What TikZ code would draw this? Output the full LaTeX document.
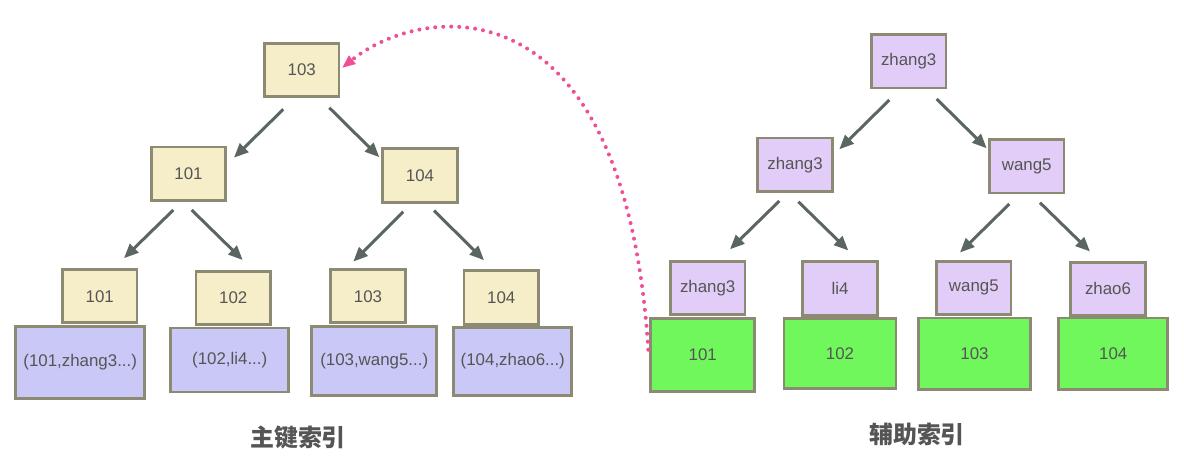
\documentclass[tikz,border=0pt]{standalone}
\usepackage{fontspec}
\setmainfont{Liberation Sans}
\newfontfamily\cjk{Noto Sans CJK SC}
\usepackage{xcolor}
\usetikzlibrary{arrows.meta,calc}
\definecolor{keyfill}{HTML}{F5EEC9}
\definecolor{rowfill}{HTML}{C9C8F6}
\definecolor{secfill}{HTML}{E1CDF7}
\definecolor{pkfill}{HTML}{70F75C}
\definecolor{edgec}{HTML}{8D8A74}
\definecolor{arrc}{HTML}{5B6661}
\definecolor{linkc}{HTML}{EE4F97}
\definecolor{txtc}{HTML}{555555}

\begin{document}
\begin{tikzpicture}[x=0.025cm,y=-0.025cm,
		box/.style={draw=edgec,line width=0.07cm,inner sep=0pt,text=txtc,font=\fontsize{12}{14}\selectfont},
		keybox/.style={box,fill=keyfill,minimum width=1.86cm,minimum height=1.33cm},
		secbox/.style={box,fill=secfill,minimum width=1.86cm,minimum height=1.33cm},
		rowbox/.style={box,fill=rowfill},
		pkbox/.style={box,fill=pkfill},
		arr/.style={draw=arrc,line width=0.075cm,-{Triangle[length=0.36cm,width=0.3cm]}},
		link/.style={draw=linkc,line width=0.1cm,line cap=round,dash pattern=on 0pt off 0.2cm,
			-{Triangle[length=0.32cm,width=0.28cm,fill=linkc,line width=0pt]}},
		caption/.style={text=txtc,font=\cjk\bfseries\fontsize{17}{20}\selectfont}]
		\useasboundingbox (0,0) rectangle (1184,465);
		\node[rowbox,minimum width=3.22cm,minimum height=1.8cm] (d1) at (80.2,362.5) {(101,zhang3...)};
		\node[rowbox,minimum width=2.95cm,minimum height=1.6cm] (d2) at (229.7,360) {(102,li4...)};
		\node[rowbox,minimum width=3.12cm,minimum height=1.72cm] (d3) at (374.2,360.8) {(103,wang5...)};
		\node[rowbox,minimum width=2.95cm,minimum height=1.7cm] (d4) at (512.8,361.2) {(104,zhao6...)};
		\node[keybox] (k0) at (301.8,70) {103};
		\node[keybox] (k1) at (188.5,173.7) {101};
		\node[keybox] (k2) at (420,175.5) {104};
		\node[keybox] (l1) at (99.7,296.2) {101};
		\node[keybox] (l2) at (233.3,298) {102};
		\node[keybox] (l3) at (368,296.2) {103};
		\node[keybox] (l4) at (501.3,297.5) {104};
		\draw[arr] ($(k0.south)+(-18.5,11.3)$) -- ($(k1.north)+(45.5,12)$);
		\draw[arr] ($(k0.south)+(27.5,9.7)$) -- ($(k2.north)+(-40.7,9.7)$);
		\draw[arr] ($(k1.south)+(-15.2,8.3)$) -- ($(l1.north)+(24.3,-10)$);
		\draw[arr] ($(k1.south)+(3.2,8.3)$) -- ($(l2.north)+(9.4,-10)$);
		\draw[arr] ($(k2.south)+(-16.7,8.3)$) -- ($(l3.north)+(-14.7,-6.6)$);
		\draw[arr] ($(k2.south)+(14,7)$) -- ($(l4.north)+(-17.3,-9.3)$);
		\node[caption] (pk) at (298,438) {主键索引};
		\node[pkbox,minimum width=2.6cm,minimum height=1.82cm] (g1) at (702.7,354.7) {101};
		\node[pkbox,minimum width=2.8cm,minimum height=1.75cm] (g2) at (840,353.7) {102};
		\node[pkbox,minimum width=2.78cm,minimum height=1.78cm] (g3) at (974.5,353.7) {103};
		\node[pkbox,minimum width=2.72cm,minimum height=1.78cm] (g4) at (1113.3,353.7) {104};
		\node[secbox] (r0) at (908.7,61.3) {zhang3};
		\node[secbox] (r1) at (795,164.7) {zhang3};
		\node[secbox] (r2) at (1026.7,166.3) {wang5};
		\node[secbox] (m1) at (707.7,288) {zhang3};
		\node[secbox] (m2) at (840,288.5) {li4};
		\node[secbox] (m3) at (973.8,287.8) {wang5};
		\node[secbox] (m4) at (1108,288.8) {zhao6};
		\draw[arr] ($(r0.south)+(-19.4,10.7)$) -- ($(r1.north)+(44.3,12.6)$);
		\draw[arr] ($(r0.south)+(28,9.7)$) -- ($(r2.north)+(-40,10)$);
		\draw[arr] ($(r1.south)+(-15.7,8.3)$) -- ($(m1.north)+(22.3,-10.7)$);
		\draw[arr] ($(r1.south)+(3.3,9)$) -- ($(m2.north)+(8.3,-10)$);
		\draw[arr] ($(r2.south)+(-17.4,9.7)$) -- ($(m3.north)+(-13.8,-7.3)$);
		\draw[arr] ($(r2.south)+(13.3,8.4)$) -- ($(m4.north)+(-18,-9.3)$);
		\node[caption] (sk) at (917,434) {辅助索引};
		\draw[link] ($(g1.west)+(-1,-5)$) .. controls (624,-28) and (420,5) .. ($(k0.east)+(2,-2.3)$);
	\end{tikzpicture}
\end{document}
